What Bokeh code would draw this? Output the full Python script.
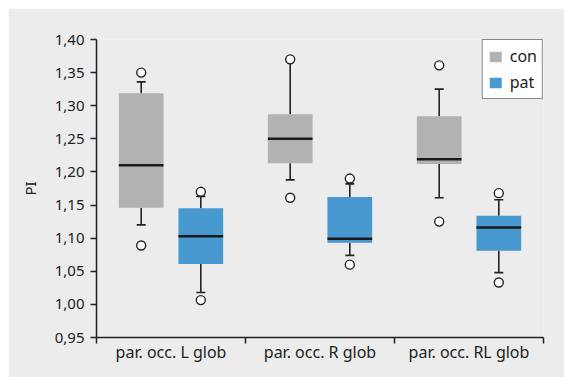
from bokeh.plotting import figure
from bokeh.models import (Range1d, FixedTicker, CustomJSTickFormatter, Legend,
                          LegendItem, ColumnDataSource)
from bokeh.embed import file_html
from bokeh.resources import INLINE

categories = ["par. occ. L glob", "par. occ. R glob", "par. occ. RL glob"]
groups = ["con", "pat"]

con_low = [1.120, 1.188, 1.161]
con_q1 = [1.146, 1.213, 1.212]
con_med = [1.210, 1.250, 1.219]
con_q3 = [1.319, 1.287, 1.284]
con_high = [1.336, 1.368, 1.325]
con_out_cat = [0, 0, 1, 1, 2, 2]
con_out_val = [1.350, 1.089, 1.370, 1.161, 1.361, 1.125]

pat_low = [1.018, 1.074, 1.048]
pat_q1 = [1.061, 1.093, 1.081]
pat_med = [1.103, 1.099, 1.116]
pat_q3 = [1.145, 1.162, 1.134]
pat_high = [1.163, 1.182, 1.158]
pat_out_cat = [0, 0, 1, 1, 2, 2]
pat_out_val = [1.170, 1.0065, 1.190, 1.060, 1.168, 1.033]

BG = "#ececec"
INK = "#222222"
FONT = "Noto Sans"
colors = {"con": "#b2b2b2", "pat": "#4899d0"}
offsets = {"con": 0.30, "pat": 0.70}
BOX_W = 0.30

p = figure(width=556, height=369, output_backend="svg", toolbar_location=None,
           x_range=Range1d(0, 3), y_range=Range1d(0.95, 1.40),
           min_border_left=88, min_border_right=21, min_border_top=31,
           min_border_bottom=40)
p.margin = (8, 0, 0, 8)
p.background_fill_color = BG
p.border_fill_color = BG
p.outline_line_color = None
p.xgrid.visible = False
p.ygrid.visible = False

series = {
    "con": (con_low, con_q1, con_med, con_q3, con_high, con_out_cat, con_out_val),
    "pat": (pat_low, pat_q1, pat_med, pat_q3, pat_high, pat_out_cat, pat_out_val),
}

renderers = {}
for g in groups:
    low, q1, med, q3, high, ocat, oval = series[g]
    xs = [i + offsets[g] for i in range(len(categories))]
    src = ColumnDataSource(dict(x=xs, low=low, q1=q1, med=med, q3=q3, high=high,
                                x0=[x - BOX_W / 2 for x in xs],
                                x1=[x + BOX_W / 2 for x in xs]))
    p.segment(x0="x", y0="q3", x1="x", y1="high", source=src,
              line_color=INK, line_width=1.6)
    p.segment(x0="x", y0="q1", x1="x", y1="low", source=src,
              line_color=INK, line_width=1.6)
    r = p.vbar(x="x", bottom="q1", top="q3", width=BOX_W, source=src,
               fill_color=colors[g], line_color=None)
    renderers[g] = r
    p.segment(x0="x0", y0="med", x1="x1", y1="med", source=src,
              line_color="#1a1a1a", line_width=2.5)
    p.scatter(x="x", y="high", source=src, marker="dash", size=9,
              line_color=INK, line_width=1.6)
    p.scatter(x="x", y="low", source=src, marker="dash", size=9,
              line_color=INK, line_width=1.6)
    osrc = ColumnDataSource(dict(x=[c + offsets[g] for c in ocat], y=oval))
    p.scatter(x="x", y="y", source=osrc, marker="circle", size=9,
              fill_color="white", line_color=INK, line_width=1.4)

# y axis
yax = p.yaxis[0]
yax.ticker = FixedTicker(ticks=[0.95 + 0.05 * k for k in range(10)])
yax.formatter = CustomJSTickFormatter(code="return tick.toFixed(2).replace('.', ',');")
yax.axis_label = "PI"
yax.axis_label_standoff = 12
yax.axis_label_text_font = FONT
yax.axis_label_text_font_size = "15px"
yax.axis_label_text_font_style = "normal"
yax.axis_label_text_color = INK
yax.major_label_text_font = FONT
yax.major_label_text_font_size = "15px"
yax.major_label_text_color = INK
yax.major_label_standoff = 6
yax.major_tick_in = 0
yax.major_tick_out = 6
yax.major_tick_line_color = INK
yax.major_tick_line_width = 1.5
yax.minor_tick_line_color = None
yax.axis_line_color = INK
yax.axis_line_width = 1.5

# x axis
xax = p.xaxis[0]
xax.ticker = FixedTicker(ticks=[0.5, 1.5, 2.5], minor_ticks=[0, 1, 2, 3])
xax.formatter = CustomJSTickFormatter(args=dict(cats=categories),
                                      code="return cats[Math.floor(tick)];")
xax.major_label_text_font = FONT
xax.major_label_text_font_size = "16px"
xax.major_label_text_color = INK
xax.major_label_standoff = -3
xax.major_tick_line_color = None
xax.major_tick_in = 0
xax.major_tick_out = 0
xax.minor_tick_in = 0
xax.minor_tick_out = 6
xax.minor_tick_line_color = INK
xax.minor_tick_line_width = 1.5
xax.axis_line_color = INK
xax.axis_line_width = 1.5

legend = Legend(items=[LegendItem(label=g, renderers=[renderers[g]]) for g in groups],
                location="top_right", margin=0, padding=5, spacing=4,
                glyph_width=15, glyph_height=13, label_height=20,
                label_standoff=7, label_text_font=FONT,
                label_text_font_size="16px", label_text_color=INK,
                border_line_color="#111111", border_line_width=1.5,
                background_fill_color="white", background_fill_alpha=1.0)
p.add_layout(legend)

open("out.html", "w").write(file_html(p, INLINE))
